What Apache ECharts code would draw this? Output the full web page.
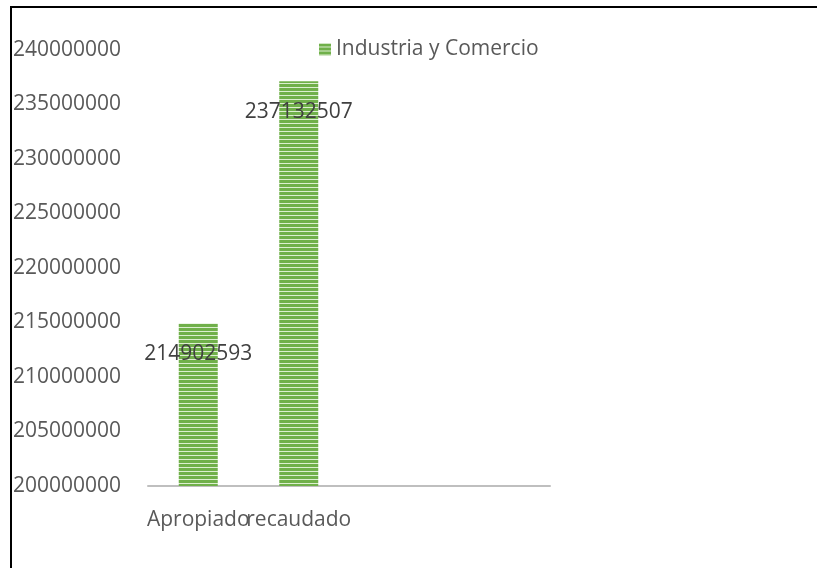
<!DOCTYPE html>
<html>
<head>
<meta charset="utf-8">
<script src="https://cdn.jsdelivr.net/npm/echarts@6/dist/echarts.min.js"></script>
<style>
  html, body { margin: 0; padding: 0; background: #fff; }
  #chart { width: 817px; height: 568px; }
</style>
</head>
<body>
<div id="chart"></div>
<script>
const categories = ['Apropiado', 'recaudado', '', '']
const values = [214902593, 237132507, null, null]
const seriesName = 'Industria y Comercio'

// striped fill like the original excel bars
const makeStripes = () => {
  const c = document.createElement('canvas')
  c.width = 4
  c.height = 4
  const ctx = c.getContext('2d')
  ctx.fillStyle = '#70b04a'
  ctx.fillRect(0, 0, 4, 3)
  ctx.fillStyle = '#dcefd0'
  ctx.fillRect(0, 3, 4, 1)
  return c
}

const chart = echarts.init(document.getElementById('chart'))
const font = '"Open Sans", "Liberation Sans", sans-serif'

const option = {
  animation: false,
  textStyle: { fontFamily: font },
  graphic: [
    {
      type: 'rect',
      shape: { x: 11, y: 7, width: 820, height: 600 },
      style: { fill: 'none', stroke: '#000', lineWidth: 2 }
    }
  ],
  legend: {
    left: 314,
    top: 34,
    icon: 'rect',
    itemWidth: 12,
    itemHeight: 12,
    itemGap: 5,
    textStyle: { fontSize: 21, color: '#595959', fontFamily: font }
  },
  grid: { left: 148, right: 267, top: 50, bottom: 82 },
  xAxis: {
    type: 'category',
    data: categories,
    axisLine: { lineStyle: { color: '#bfbfbf', width: 2 } },
    axisTick: { show: false },
    axisLabel: {
      interval: 0,
      hideOverlap: false,
      fontSize: 21,
      color: '#595959',
      margin: 24,
      fontFamily: font
    }
  },
  yAxis: {
    type: 'value',
    min: 200000000,
    max: 240000000,
    interval: 5000000,
    splitLine: { show: false },
    axisLine: { show: false },
    axisTick: { show: false },
    axisLabel: {
      fontSize: 21,
      color: '#595959',
      margin: 27,
      fontFamily: font,
      formatter: (v) => String(v)
    }
  },
  series: [
    {
      name: seriesName,
      type: 'bar',
      data: values,
      barWidth: 39,
      itemStyle: { color: { image: makeStripes(), repeat: 'repeat' } },
      label: {
        show: true,
        position: 'insideTop',
        distance: 20,
        fontSize: 21,
        color: '#404040',
        fontFamily: font
      }
    }
  ]
}
chart.setOption(option)
</script>
</body>
</html>
